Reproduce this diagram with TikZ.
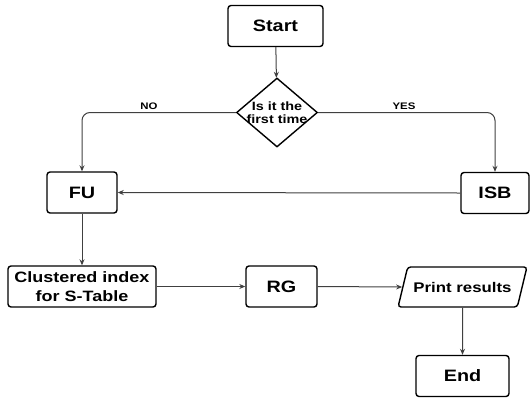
\documentclass[tikz,border=0pt]{standalone}
\usepackage{fontspec}
\setmainfont{Liberation Sans}[FakeStretch=1.2]
\usetikzlibrary{shapes.geometric,arrows.meta}

\begin{document}
\begin{tikzpicture}[x=1pt,y=-1pt,>={Stealth[length=6pt,width=5pt]},
every node/.style={align=center},
box/.style={shape=rectangle,draw,line width=1.4pt,rounded corners=3pt,inner sep=0,minimum height=41pt,font=\fontsize{16.5}{18}\selectfont\bfseries},
decision/.style={shape=diamond,draw,line width=1.4pt,inner sep=0,minimum width=81pt,minimum height=69pt},
io/.style={shape=trapezium,trapezium left angle=50,trapezium right angle=130,trapezium stretches=true,draw,line width=1.4pt,rounded corners=3pt,inner sep=0,minimum width=129pt,minimum height=40pt,font=\fontsize{14}{16}\selectfont\bfseries},
flow/.style={draw=black!75,line width=1pt,->},
tag/.style={font=\fontsize{9.5}{10}\selectfont\bfseries}]
\useasboundingbox (0,0) rectangle (531,400);

\node [box, minimum width=95pt] (start) at (275.5,26) {Start};
\node [decision] (dec) at (277,112.5) {};
\node [font=\fontsize{12}{12.5}\selectfont\bfseries] (dectext) at (dec) {Is it the\\first time};
\node [box, minimum width=70pt] (fu) at (82,192.5) {FU};
\node [box, minimum width=68pt] (isb) at (495,193) {ISB};
\node [box, minimum width=148pt, font=\fontsize{15}{18.5}\selectfont\bfseries] (ci) at (82,286.5) {Clustered index\\for S-Table};
\node [box, minimum width=71pt] (rg) at (281.5,286.5) {RG};
\node [io] (print) at (462.5,287) {Print results};
\node [box, minimum width=93pt] (end) at (462.5,376) {End};
\node [tag] (no) at (149,106) {NO};
\node [tag] (yes) at (404,106) {YES};

    \draw[flow] (start) -- (dec);
    \draw[flow,rounded corners=8pt] (dec.west) -| (fu.north);
    \draw[flow,rounded corners=8pt] (dec.east) -| (isb.north);
    \draw[flow] (isb.west) -- (fu.east);
    \draw[flow] (fu) -- (ci);
    \draw[flow] (ci) -- (rg);
    \draw[flow] (rg.east) -- (print.west);
    \draw[flow] (print) -- (end);

\end{tikzpicture}
\end{document}
